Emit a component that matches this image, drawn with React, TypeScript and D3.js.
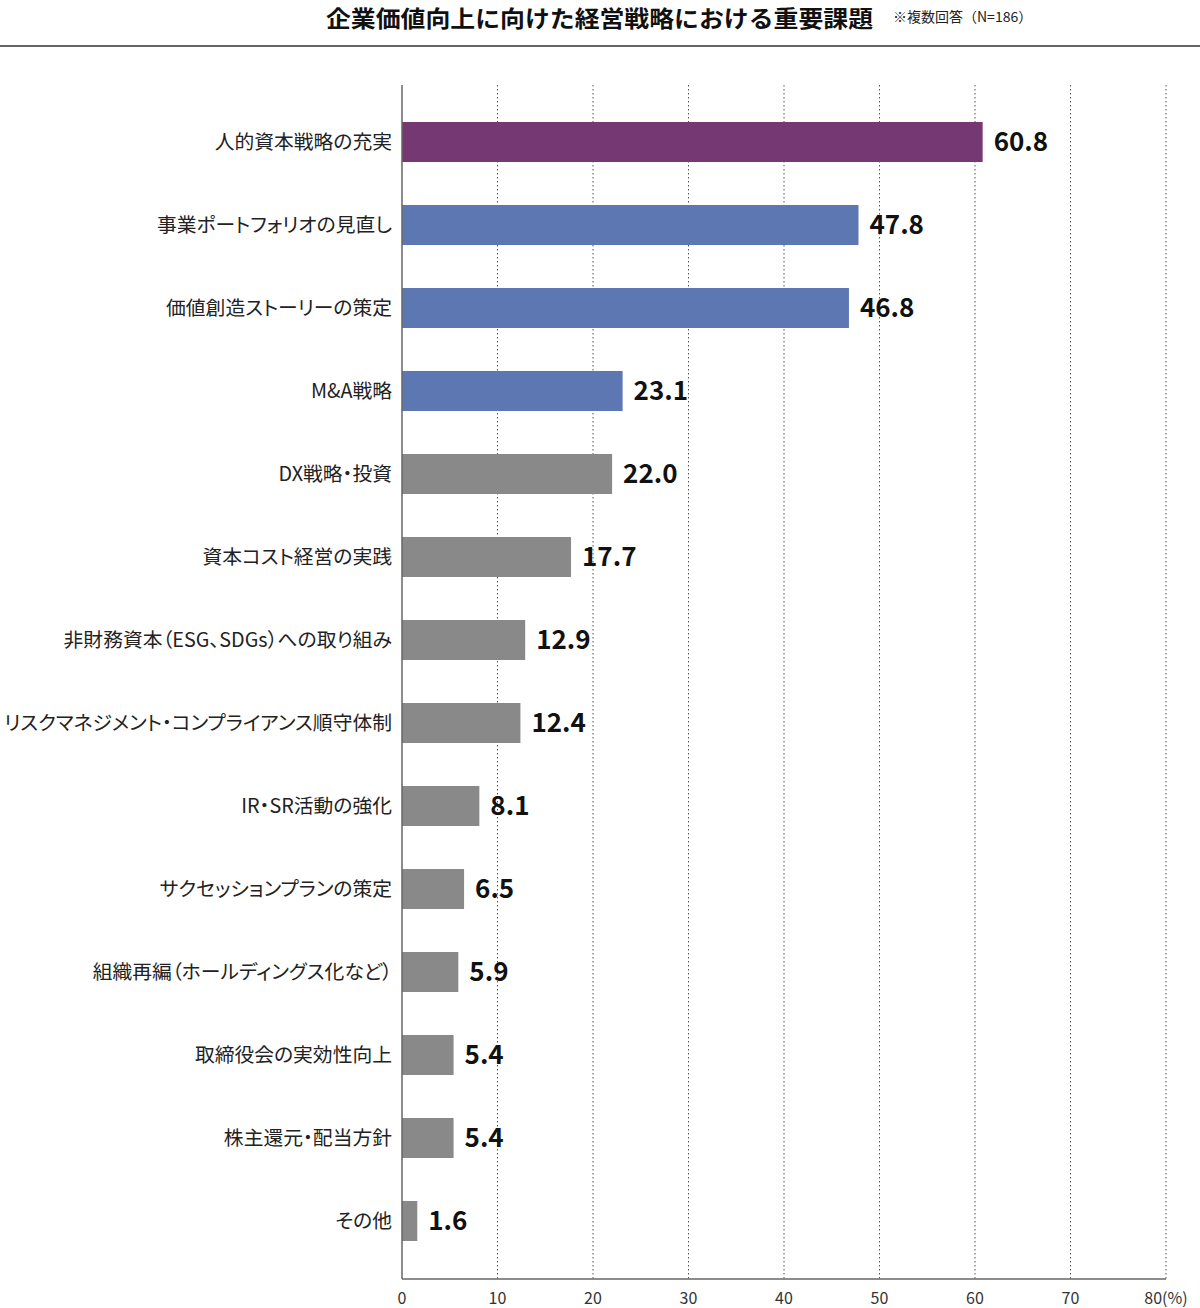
import React from "react";
import * as d3 from "d3";

const categories = [
  "人的資本戦略の充実",
  "事業ポートフォリオの見直し",
  "価値創造ストーリーの策定",
  "M&A戦略",
  "DX戦略・投資",
  "資本コスト経営の実践",
  "非財務資本（ESG、SDGs）への取り組み",
  "リスクマネジメント・コンプライアンス順守体制",
  "IR・SR活動の強化",
  "サクセッションプランの策定",
  "組織再編（ホールディングス化など）",
  "取締役会の実効性向上",
  "株主還元・配当方針",
  "その他",
];
const values = [60.8, 47.8, 46.8, 23.1, 22.0, 17.7, 12.9, 12.4, 8.1, 6.5, 5.9, 5.4, 5.4, 1.6];
const groups = ["top", "mid", "mid", "mid", "rest", "rest", "rest", "rest", "rest", "rest", "rest", "rest", "rest", "rest"];
const groupColors: Record<string, string> = { top: "#763873", mid: "#5C77B1", rest: "#898989" };
const xTicks = [0, 10, 20, 30, 40, 50, 60, 70, 80];
const title = "企業価値向上に向けた経営戦略における重要課題";
const note = "※複数回答（N=186）";

const W = 1200;
const H = 1308;
const FONT = "'Noto Sans CJK JP', 'Noto Sans', sans-serif";

export default function App() {
  const x = d3.scaleLinear().domain([0, 80]).range([402, 1166]);
  const y = d3.scaleBand<string>().domain(categories).range([100.5, 1262.5]).paddingInner(0.518).paddingOuter(0.259);
  const axisTop = 85;
  const axisBottom = 1279;
  return (
    <svg width={W} height={H} style={{ position: "absolute", left: 0, top: 0, display: "block" }} fontFamily={FONT}>
      <rect width={W} height={H} fill="#fff" />
      <text x={873} y={27} textAnchor="end" fontSize={23} fontWeight={700} fill="#111" textLength={547} lengthAdjust="spacingAndGlyphs">{title}</text>
      <text x={893} y={22} fontSize={14} fill="#222">{note}</text>
      <line x1={0} x2={W} y1={46} y2={46} stroke="#333" strokeWidth={1.5} />
      {xTicks.slice(1).map((t) => (
        <line key={"g" + t} x1={x(t)} x2={x(t)} y1={axisTop} y2={axisBottom} stroke="#555" strokeWidth={1} strokeDasharray="1.5,2.5" />
      ))}
      {categories.map((c, i) => (
        <g key={c}>
          <rect x={x(0)} y={y(c)} width={x(values[i]) - x(0)} height={y.bandwidth()} fill={groupColors[groups[i]]} />
          <text x={x(values[i]) + 11} y={(y(c) as number) + y.bandwidth() / 2 + 9} fontSize={26} fontWeight={700} fill="#111">
            {values[i].toFixed(1)}
          </text>
          <text x={392} y={(y(c) as number) + y.bandwidth() / 2 + 7} textAnchor="end" fontSize={19.8} fill="#222" style={{ fontFeatureSettings: "'palt'" }}>
            {c}
          </text>
        </g>
      ))}
      <line x1={x(0)} x2={x(0)} y1={axisTop} y2={axisBottom} stroke="#666" strokeWidth={1.5} />
      <line x1={x(0)} x2={x(80)} y1={axisBottom} y2={axisBottom} stroke="#666" strokeWidth={1.5} />
      {xTicks.map((t) => (
        <text key={"t" + t} x={x(t)} y={1304} textAnchor="middle" fontSize={16} fill="#333">
          {t === 80 ? "80(%)" : String(t)}
        </text>
      ))}
    </svg>
  );
}
